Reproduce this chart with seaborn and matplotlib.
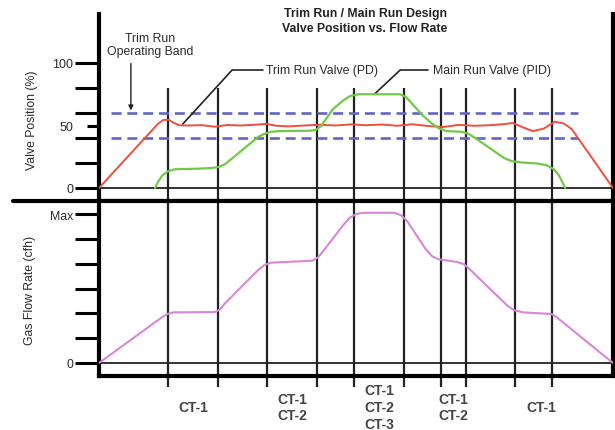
import matplotlib
matplotlib.use("Agg")
import matplotlib.pyplot as plt
import seaborn as sns

# ---------------- data ----------------
trim_x = [0, 11.5, 12.5, 13.6, 14.6, 15.6, 17.5, 20.0, 22.5, 25.0, 27.5, 30.0,
          32.5, 34.5, 37.0, 40.0, 43.0, 46.0, 49.0, 52.0, 55.0, 58.0, 61.0, 64.0,
          67.0, 70.0, 73.0, 76.0, 78.5, 80.5, 82.5, 84.4, 86.5, 88.7, 90.5, 92.0, 100]
trim_y = [0, 51.5, 54.5, 54.5, 52.0, 50.2, 50.0, 50.3, 49.0, 50.4, 50.0, 50.5,
          51.3, 49.8, 49.3, 50.0, 50.6, 50.0, 50.9, 50.2, 50.8, 49.8, 51.0, 49.6,
          48.8, 50.5, 49.8, 50.2, 51.0, 52.0, 48.5, 45.5, 47.5, 53.0, 51.5, 47.0, 0]

main_x = [10.9, 11.5, 12.3, 13.5, 14.8, 19.6, 22.0, 23.2, 24.5, 26.0, 31.0, 32.3,
          33.5, 35.0, 41.0, 42.2, 43.2, 45.5, 47.5, 48.8, 50.5, 58.6, 59.8, 61.0,
          63.0, 64.8, 66.2, 67.7, 70.5, 71.8, 73.0, 76.7, 78.8, 80.3, 82.0, 85.5,
          87.2, 88.5, 89.5, 90.7]
main_y = [0, 5, 10, 13.5, 15, 15.5, 16.0, 16.8, 19, 24, 41, 43.5,
          45, 45.5, 45.8, 46.5, 49.5, 63, 70, 73.5, 75, 75, 72.5, 67,
          58, 51.5, 47.5, 45.5, 45, 43.5, 40.5, 30, 24, 21.5, 20.5, 19.5,
          18, 15, 10, 0]

flow_x = [0, 12.5, 13.4, 14.5, 22.5, 23.5, 24.5, 31.0, 32.2, 33.5, 41.5, 42.6,
          43.6, 47.5, 48.8, 50.0, 51.5, 57.5, 58.8, 60.0, 63.5, 64.8, 66.0, 69.6,
          71.0, 72.0, 79.5, 80.8, 82.5, 88.1, 89.0, 100]
flow_y = [0, 1.88, 1.98, 2.04, 2.05, 2.15, 2.4, 3.75, 3.95, 4.04, 4.12, 4.25,
          4.5, 5.55, 5.85, 6.0, 6.05, 6.05, 5.95, 5.7, 4.6, 4.3, 4.18, 4.07,
          3.98, 3.8, 2.3, 2.12, 2.04, 1.97, 1.85, 0]

band_levels = [40, 60]
band_start, band_end = 2.3, 93.2

event_x = [13.4, 23.2, 32.7, 42.4, 49.6, 59.3, 66.5, 71.4, 80.9, 88.1]
ct_labels = ["CT-1", "CT-1\nCT-2", "CT-1\nCT-2\nCT-3", "CT-1\nCT-2", "CT-1"]
ct_x = [18.3, 37.6, 54.6, 69.0, 86.0]

valve_ticks = [0, 20, 40, 60, 80, 100]
valve_tick_labels = ["0", "", "", "", "", "100"]
valve_mid_tick = [50]
valve_mid_label = ["50"]
flow_ticks = [0, 1, 2, 3, 4, 5, 6]
flow_tick_labels = ["0", "", "", "", "", "", "Max"]

# ---------------- style ----------------
sns.set_theme(style="white")
plt.rcParams['font.family'] = ['Liberation Sans', 'DejaVu Sans']

W, H = 615, 431
fig = plt.figure(figsize=(W / 100, H / 100), dpi=100)
ax1 = fig.add_axes([99 / W, 1 - 202 / H, (613 - 99) / W, (202 - 15) / H])
ax2 = fig.add_axes([99 / W, 1 - 377 / H, (613 - 99) / W, (377 - 202) / H])

txt = '#2a2a2a'
RED, GREEN, BLUE, PINK = '#ef4f3c', '#72c948', '#6464c8', '#d886d8'

y1lim = (-10.4, 139.2)
y2lim = (-0.524, 6.524)
for ax in (ax1, ax2):
    ax.set_xlim(0, 100)
    ax.set_xticks([])
    for s in ax.spines.values():
        s.set_color('black')
        s.set_linewidth(3)
ax1.set_ylim(*y1lim)
ax2.set_ylim(*y2lim)
ax1.spines['top'].set_visible(False)

# ---------------- top panel ----------------
ax1.hlines(band_levels, band_start, band_end, colors=BLUE, linewidth=1.9,
           linestyles=(0, (3.8, 2.2)), zorder=2)
ax1.axhline(0, color='#222', lw=1.3, zorder=1)
ax1.vlines(event_x, y1lim[0], 80, colors='#222', linewidth=1.6, zorder=1)
sns.lineplot(x=trim_x, y=trim_y, ax=ax1, color=RED, linewidth=1.4, zorder=3)
sns.lineplot(x=main_x, y=main_y, ax=ax1, color=GREEN, linewidth=1.6, zorder=3)

ax1.set_yticks(valve_ticks, labels=valve_tick_labels)
ax1.set_yticks(valve_mid_tick, labels=valve_mid_label, minor=True)
ax1.tick_params(axis='y', which='major', left=True, length=17, width=2.2,
                color='black', pad=1.5, labelsize=9, labelcolor=txt)
ax1.tick_params(axis='y', which='minor', left=True, length=8.5, width=2.2,
                color='black', pad=10, labelsize=9, labelcolor=txt)
ax1.set_xlabel('')
ax1.set_ylabel('')

# annotations
ax1.plot([31.9, 25.9, 16.3], [94.4, 94.4, 51.2], color='#222', lw=1.2, clip_on=False)
ax1.text(32.5, 94.4, "Trim Run Valve (PD)", ha='left', va='center',
         fontsize=8.8, color=txt)
ax1.plot([64.0, 58.6, 53.7], [94.4, 94.4, 75.5], color='#222', lw=1.2, clip_on=False)
ax1.text(65.0, 94.4, "Main Run Valve (PID)", ha='left', va='center',
         fontsize=8.8, color=txt)
ax1.text(9.9, 114.8, "Trim Run\nOperating Band", ha='center', va='center',
         fontsize=8.8, color=txt, linespacing=1.15)
ax1.annotate("", xy=(6.2, 62.0), xytext=(6.2, 99.5),
             arrowprops=dict(arrowstyle='-|>', color='#222', lw=1.0,
                             mutation_scale=7, shrinkA=0, shrinkB=0))

# ---------------- bottom panel ----------------
ax2.axhline(0, color='#222', lw=1.3, zorder=1)
ax2.vlines(event_x, -0.97, y2lim[1], colors='#222', linewidth=1.6,
           zorder=1, clip_on=False)
sns.lineplot(x=flow_x, y=flow_y, ax=ax2, color=PINK, linewidth=1.5, zorder=3)
ax2.set_yticks(flow_ticks, labels=flow_tick_labels)
ax2.tick_params(axis='y', which='major', left=True, length=17, width=2.2,
                color='black', pad=1.5, labelsize=8.8, labelcolor=txt)
ax2.set_xlabel('')
ax2.set_ylabel('')
# separator extending left of the axis
ax2.axhline(y2lim[1], xmin=-86 / 514, xmax=0, color='black', lw=3, clip_on=False)

for x, lab in zip(ct_x, ct_labels):
    ax2.text(x, -1.77, lab, ha='center', va='center', fontsize=10,
             fontweight='bold', color='#444', linespacing=1.25,
             multialignment='center', clip_on=False)

# ---------------- figure texts ----------------
fig.text(365 / W, 1 - 21.5 / H, "Trim Run / Main Run Design\nValve Position vs. Flow Rate",
         ha='center', va='center', fontsize=8.8, fontweight='bold', color='#222',
         linespacing=1.25)
fig.text(32 / W, 1 - 120 / H, "Valve Position (%)", rotation=90, ha='center',
         va='center', fontsize=8.8, color=txt)
fig.text(30 / W, 1 - 290 / H, "Gas Flow Rate (cfh)", rotation=90, ha='center',
         va='center', fontsize=8.8, color=txt)

fig.savefig("out.png", dpi=100)
